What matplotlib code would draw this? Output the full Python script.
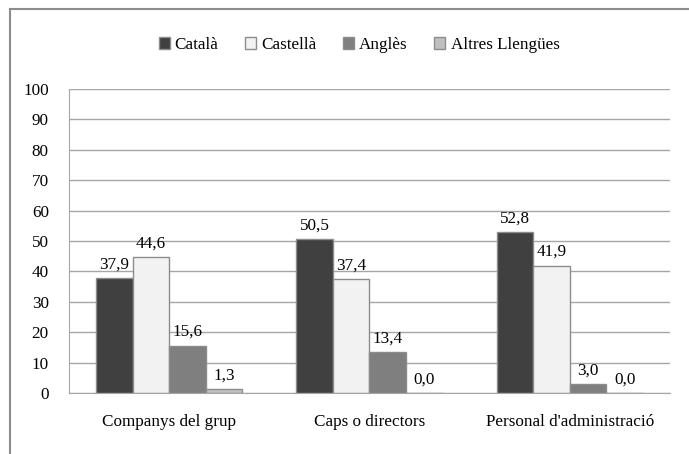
import numpy as np
import matplotlib.pyplot as plt
from matplotlib.lines import Line2D
from matplotlib.patches import Patch

categories = ["Companys del grup", "Caps o directors", "Personal d'administració"]
series_names = ["Català", "Castellà", "Anglès", "Altres Llengües"]
catala = [37.9, 50.5, 52.8]
castella = [44.6, 37.4, 41.9]
angles = [15.6, 13.4, 3.0]
altres = [1.3, 0.0, 0.0]
colors = ["#404040", "#f2f2f2", "#7f7f7f", "#bfbfbf"]

plt.rcParams['font.family'] = ['Liberation Serif', 'DejaVu Serif']
fs = 12.3

fig = plt.figure(figsize=(6.89, 4.54), dpi=100)
ax = fig.add_axes([69/689, 1-393/454, 601/689, 304/454])

x = np.arange(len(categories))
w = 0.183
series = [catala, castella, angles, altres]
for i, (vals, c) in enumerate(zip(series, colors)):
    pos = x + (i - 1.5) * w
    ax.bar(pos, vals, width=w, color=c, edgecolor="#8c8c8c", linewidth=1, zorder=3)
    for p, v in zip(pos, vals):
        ax.annotate(f"{v:.1f}".replace(".", ","), (p, v), xytext=(0, 4),
                    textcoords="offset points", ha="center", va="bottom", fontsize=fs)

ax.set_xlim(-0.5, 2.5)
ax.set_ylim(0, 100)
ax.set_yticks(range(0, 101, 10))
ax.set_xticks(x)
ax.set_xticklabels(categories)
ax.tick_params(length=0, labelsize=fs)
ax.tick_params(axis='x', pad=15)
ax.tick_params(axis='y', pad=14.5)
ax.yaxis.grid(True, color="#a6a6a6", linewidth=1, zorder=0)
for s in ["top", "right"]:
    ax.spines[s].set_visible(False)
ax.spines["left"].set_color("#a6a6a6")
ax.spines["bottom"].set_color("#a6a6a6")
ax.spines["bottom"].set_zorder(4)

handles = [Patch(facecolor=c, edgecolor="#8c8c8c", label=n) for n, c in zip(series_names, colors)]
fig.legend(handles=handles, loc="center", bbox_to_anchor=(359/689, 1-45/454), ncol=4,
           frameon=False, fontsize=fs, handlelength=0.65, handleheight=0.65,
           handletextpad=0.3, columnspacing=1.55)

# outer chart border (left and top)
fig.add_artist(Line2D([9.5/689, 9.5/689], [0, 1-9/454], color="#8c8c8c", linewidth=1.5,
                      transform=fig.transFigure))
fig.add_artist(Line2D([9.5/689, 1], [1-9/454, 1-9/454], color="#8c8c8c", linewidth=1.5,
                      transform=fig.transFigure))

fig.savefig("out.png", dpi=100)
